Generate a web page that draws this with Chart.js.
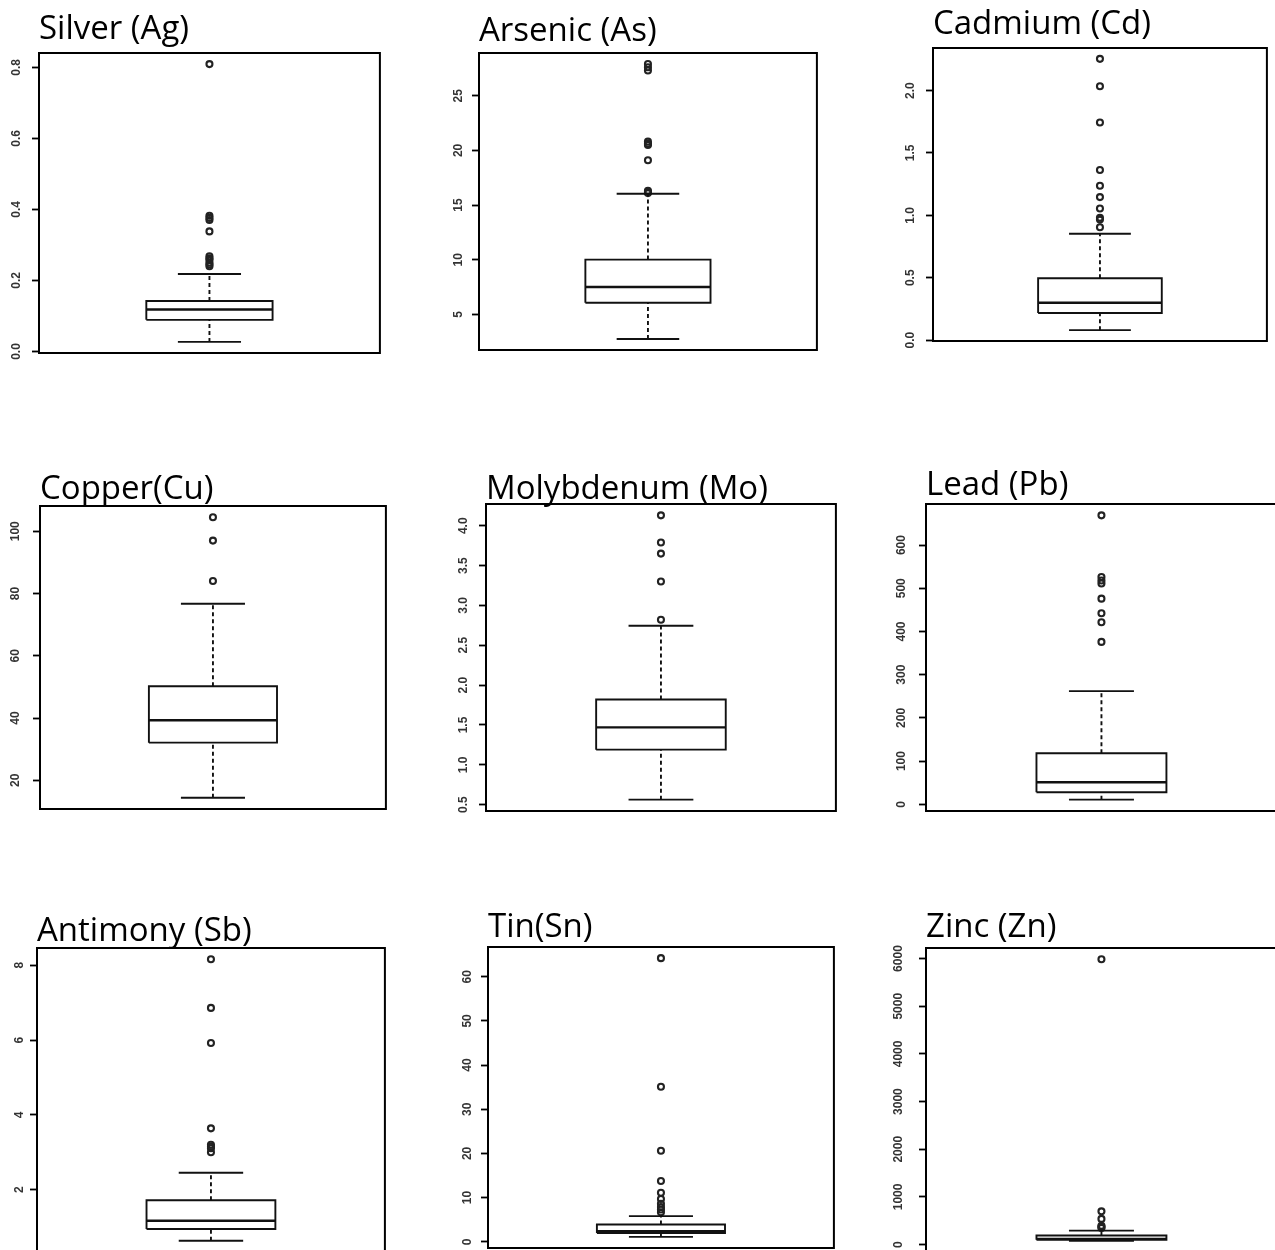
<!DOCTYPE html>
<html>
<head>
<meta charset="utf-8">
<script src="https://cdn.jsdelivr.net/npm/chart.js@4.4.1/dist/chart.umd.min.js"></script>
<style>
  html, body { margin: 0; padding: 0; background: #fff; }
  #page { position: relative; width: 1275px; height: 1250px; overflow: hidden; }
  #page canvas { position: absolute; }
</style>
</head>
<body>
<div id="page"></div>
<script>
// one box per element
const elements = ['Silver (Ag)', 'Arsenic (As)', 'Cadmium (Cd)', 'Copper(Cu)', 'Molybdenum (Mo)',
  'Lead (Pb)', 'Antimony (Sb)', 'Tin(Sn)', 'Zinc (Zn)'];

const whiskerLow  = [0.027, 2.76, 0.08, 14.4, 0.563, 10.8, 0.636, 1.12, 80];
const q1          = [0.089, 6.07, 0.217, 32.1, 1.19, 27.8, 0.95, 2.0, 100];
const median      = [0.118, 7.51, 0.30, 39.3, 1.47, 51, 1.17, 2.4, 120];
const q3          = [0.142, 10.02, 0.496, 50.2, 1.82, 118.3, 1.72, 3.9, 190];
const whiskerHigh = [0.218, 16.04, 0.853, 76.7, 2.744, 262, 2.455, 5.8, 293];

const outliers = [
  [0.809, 0.382, 0.376, 0.370, 0.338, 0.268, 0.262, 0.258, 0.25, 0.245, 0.24],
  [27.9, 27.6, 27.3, 20.8, 20.6, 20.5, 19.1, 16.3, 16.2, 16.1],
  [2.254, 2.034, 1.744, 1.363, 1.237, 1.146, 1.055, 0.98, 0.966, 0.904],
  [104.5, 97.0, 84.0],
  [4.13, 3.79, 3.65, 3.30, 2.82],
  [668.7, 526, 518, 511, 476, 442, 421.5, 375.8],
  [8.16, 6.86, 5.92, 3.64, 3.2, 3.15, 3.11, 3.0],
  [64.2, 35.1, 20.6, 13.75, 11.1, 9.7, 8.6, 7.85, 7.3, 6.7],
  [5985, 697, 538, 395, 370, 349]
];

const tickLabels = [
  ['0.0', '0.2', '0.4', '0.6', '0.8'],
  ['5', '10', '15', '20', '25'],
  ['0.0', '0.5', '1.0', '1.5', '2.0'],
  ['20', '40', '60', '80', '100'],
  ['0.5', '1.0', '1.5', '2.0', '2.5', '3.0', '3.5', '4.0'],
  ['0', '100', '200', '300', '400', '500', '600'],
  ['2', '4', '6', '8'],
  ['0', '10', '20', '30', '40', '50', '60'],
  ['0', '1000', '2000', '3000', '4000', '5000', '6000']
];

// plot frame of each panel on the page, and gap under its title
const frames = [
  { l: 39, t: 53, r: 382, b: 353, gap: 14.7 },
  { l: 479, t: 53, r: 819, b: 350, gap: 12.7 },
  { l: 933, t: 48, r: 1269, b: 341, gap: 15 },
  { l: 40, t: 506, r: 388, b: 809, gap: 7.7 },
  { l: 486, t: 504, r: 838, b: 811, gap: 5.7 },
  { l: 926, t: 504, r: 1279, b: 811, gap: 9.7 },
  { l: 37, t: 948, r: 387, b: 1252, gap: 7.3 },
  { l: 488, t: 947, r: 836, b: 1248, gap: 11 },
  { l: 926, t: 948, r: 1279, b: 1252, gap: 11.6 }
];

const AXIS_W = 45;
const BOX_HALF = 0.2;
const CAP_HALF = 0.1;

const framePlugin = {
  id: 'frame',
  afterDatasetsDraw(chart) {
    const a = chart.chartArea;
    const ctx = chart.ctx;
    ctx.save();
    ctx.strokeStyle = '#000';
    ctx.lineWidth = 2;
    ctx.strokeRect(a.left, a.top, a.right - a.left, a.bottom - a.top);
    ctx.restore();
  }
};

function seg(points, width, dash) {
  return {
    data: points,
    showLine: true,
    borderColor: '#111',
    borderWidth: width,
    borderDash: dash || [],
    pointRadius: 0,
    fill: false,
    tension: 0
  };
}

const page = document.getElementById('page');

elements.forEach((name, i) => {
  const f = frames[i];
  const padBottom = Math.max(f.gap - 4.4, 0);
  const titleBlock = Math.round(46 + f.gap);
  const padTop = titleBlock - 26.4 - padBottom;

  const canvas = document.createElement('canvas');
  const w = (f.r - f.l) + AXIS_W + 4;
  const h = (f.b - f.t) + titleBlock + 14;
  canvas.width = w;
  canvas.height = h;
  canvas.style.width = w + 'px';
  canvas.style.height = h + 'px';
  canvas.style.left = (f.l - AXIS_W) + 'px';
  canvas.style.top = (f.t - titleBlock) + 'px';
  page.appendChild(canvas);

  const all = [whiskerLow[i], whiskerHigh[i], ...outliers[i]];
  const lo = Math.min(...all), hi = Math.max(...all);
  const pad = (hi - lo) * 0.04;

  const x0 = 1 - BOX_HALF, x1 = 1 + BOX_HALF;
  const datasets = [
    seg([{ x: x0, y: q1[i] }, { x: x1, y: q1[i] }, { x: x1, y: q3[i] }, { x: x0, y: q3[i] }, { x: x0, y: q1[i] }], 1.9),
    seg([{ x: x0, y: median[i] }, { x: x1, y: median[i] }], 2.4),
    seg([{ x: 1, y: q3[i] }, { x: 1, y: whiskerHigh[i] }], 1.9, [4, 3]),
    seg([{ x: 1, y: whiskerLow[i] }, { x: 1, y: q1[i] }], 1.9, [4, 3]),
    seg([{ x: 1 - CAP_HALF, y: whiskerHigh[i] }, { x: 1 + CAP_HALF, y: whiskerHigh[i] }], 1.9),
    seg([{ x: 1 - CAP_HALF, y: whiskerLow[i] }, { x: 1 + CAP_HALF, y: whiskerLow[i] }], 1.9),
    {
      data: outliers[i].map(v => ({ x: 1, y: v })),
      showLine: false,
      pointStyle: 'circle',
      pointRadius: 3,
      pointBorderWidth: 2.1,
      pointBorderColor: '#222',
      pointBackgroundColor: 'rgba(255,255,255,0)'
    }
  ];

  new Chart(canvas, {
    type: 'scatter',
    data: { datasets },
    options: {
      responsive: false,
      animation: false,
      devicePixelRatio: 1,
      layout: { padding: { left: 0, right: 4, top: 0, bottom: 14 } },
      plugins: {
        legend: { display: false },
        tooltip: { enabled: false },
        title: {
          display: true,
          text: name,
          align: 'start',
          fullSize: false,
          color: '#000',
          font: { family: "'Open Sans', sans-serif", size: 33, weight: 'normal', lineHeight: 0.8 },
          padding: { top: padTop, bottom: padBottom }
        }
      },
      scales: {
        x: { type: 'linear', display: false, min: 0.46, max: 1.54 },
        y: {
          type: 'linear',
          min: lo - pad,
          max: hi + pad,
          afterBuildTicks: s => { s.ticks = tickLabels[i].map(t => ({ value: Number(t) })); },
          afterFit: s => { s.width = AXIS_W; s.paddingTop = 0; s.paddingBottom = 0; },
          border: { display: false },
          grid: {
            drawOnChartArea: false,
            drawTicks: true,
            tickLength: 7,
            tickWidth: 1.8,
            tickColor: '#000'
          },
          ticks: {
            minRotation: 90,
            maxRotation: 90,
            crossAlign: 'center',
            padding: 7,
            color: '#333',
            font: { family: "'Liberation Sans', Arial, sans-serif", size: 12, weight: 'bold' },
            callback: (v, idx) => tickLabels[i][idx]
          }
        }
      }
    },
    plugins: [framePlugin]
  });
});
</script>
</body>
</html>
